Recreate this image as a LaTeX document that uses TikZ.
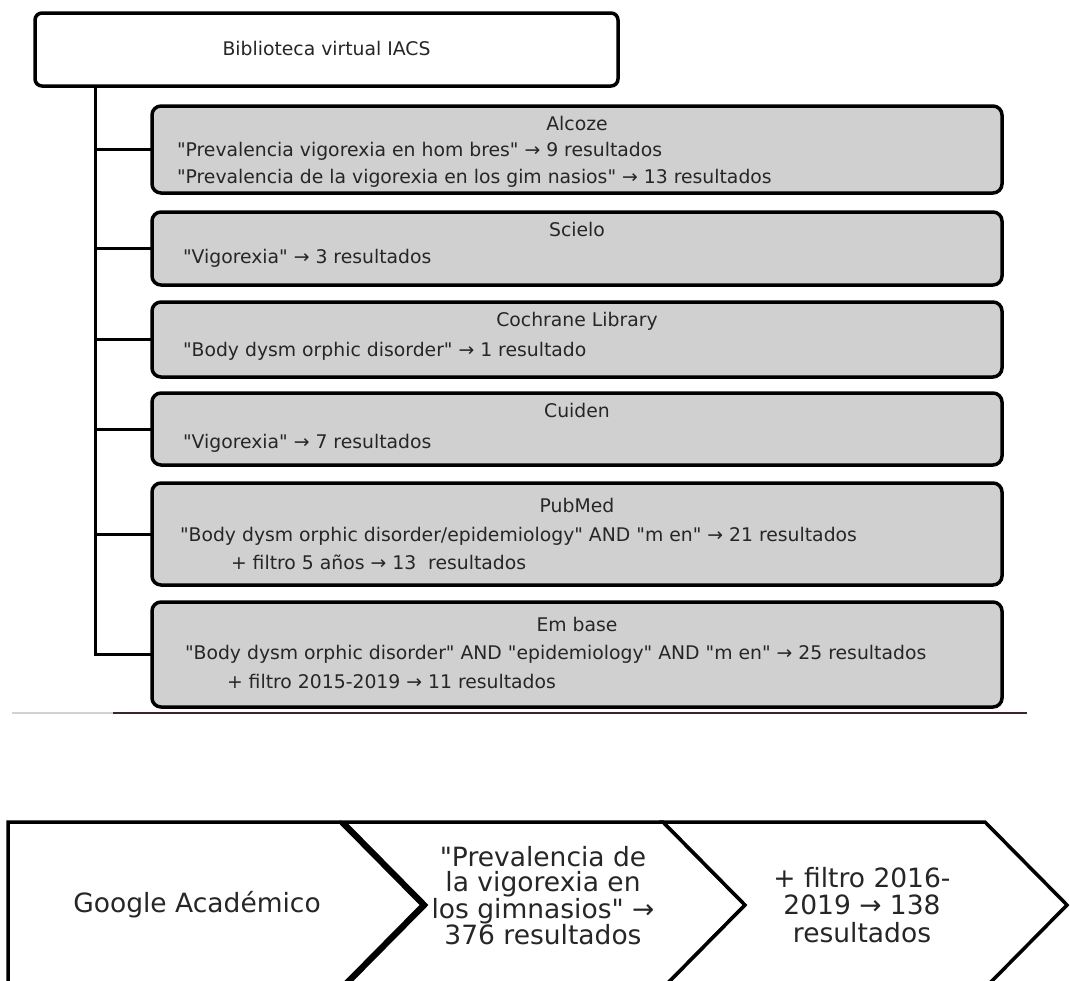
\documentclass[tikz,border=0pt]{standalone}
\usepackage{fontspec}
\setmainfont{DejaVu Sans}[Ligatures=TeXOff]
\usetikzlibrary{positioning}

\definecolor{boxgray}{RGB}{208,208,208}
\definecolor{rulebrown}{RGB}{62,38,40}

\begin{document}
\begin{tikzpicture}[
  x=1pt, y=-1pt,
  every node/.style={font=\fontsize{18.8}{22}\selectfont, text=black!85,
                     inner sep=0pt, outer sep=0pt},
  topbox/.style={rectangle, draw=black, fill=white, line width=3.5pt,
                 rounded corners=7pt, minimum width=583pt, minimum height=73pt},
  srcbox/.style={rectangle, draw=black, fill=boxgray, line width=3.5pt,
                 rounded corners=9pt, minimum width=850pt},
  conn/.style={line width=3pt, black},
  title/.style={anchor=center, text height=16pt, text depth=4pt},
  query/.style={anchor=west, text height=16pt, text depth=4pt},
  chev/.style={draw=black, fill=white, line width=3.5pt, line join=miter},
  chevtext/.style={align=center, font=\fontsize{26.5}{24.5}\selectfont},
]
\useasboundingbox (0,0) rectangle (1070,980);

% Biblioteca virtual IACS and its sources
\node[topbox] (iacs) at (326.5,49.5) {};
\node[title] (iacsT) at (iacs.center) {Biblioteca virtual IACS};

\node[srcbox, minimum height=87pt]  (alcoze)   at (577,149.5) {};
\node[srcbox, minimum height=73pt]  (scielo)   at (577,248.5) {};
\node[srcbox, minimum height=75pt]  (cochrane) at (577,339.5) {};
\node[srcbox, minimum height=72pt]  (cuiden)   at (577,429) {};
\node[srcbox, minimum height=102pt] (pubmed)   at (577,534) {};
\node[srcbox, minimum height=105pt] (embase)   at (577,654.5) {};

% titles
\node[title] (alcozeT)   at ([yshift=-18pt]alcoze.north)   {Alcoze};
\node[title] (scieloT)   at ([yshift=-18pt]scielo.north)   {Scielo};
\node[title] (cochraneT) at ([yshift=-18pt]cochrane.north) {Cochrane Library};
\node[title] (cuidenT)   at ([yshift=-18pt]cuiden.north)   {Cuiden};
\node[title] (pubmedT)   at ([yshift=-23pt]pubmed.north)   {PubMed};
\node[title] (embaseT)   at ([yshift=-23pt]embase.north)   {Em base};

% searches
\node[query] (alcozeA) at (177,150) {"Prevalencia vigorexia en hom bres" → 9 resultados};
\node[query] (alcozeB) at (177,177) {"Prevalencia de la vigorexia en los gim nasios" → 13 resultados};
\node[query] (scieloA) at (183,257) {"Vigorexia" → 3 resultados};
\node[query] (cochraneA) at (183,350) {"Body dysm orphic disorder" → 1 resultado};
\node[query] (cuidenA) at (183,442) {"Vigorexia" → 7 resultados};
\node[query] (pubmedA) at (180,535) {"Body dysm orphic disorder/epidemiology" AND "m en" → 21 resultados};
\node[query] (pubmedB) at (231,563) {+ filtro 5 años → 13 \ resultados};
\node[query] (embaseA) at (185,653) {"Body dysm orphic disorder" AND "epidemiology" AND "m en" → 25 resultados};
\node[query] (embaseB) at (227,682) {+ filtro 2015-2019 → 11 resultados};

% tree lines
\coordinate (trunk) at ([xshift=60pt]iacs.south west);
\draw[conn] (trunk) |- (embase.west);
\foreach \src in {alcoze,scielo,cochrane,cuiden,pubmed}
  \draw[conn] (trunk |- \src.west) -- (\src.west);

% separator
\draw[gray!35, line width=2pt] (12,713) -- (113,713);
\draw[rulebrown, line width=2.5pt] (113,713) -- (1027,713);

% Google Academico chain
\begin{scope}
\clip (0,0) rectangle (1070,980);
\draw[chev] (8,822) -- (340,822) -- (422,905) -- (340,988) -- (8,988) -- cycle;
\draw[chev] (344,822) -- (663,822) -- (745,905) -- (663,988) -- (344,988)
  -- (426,905) -- cycle;
\draw[chev] (663,822) -- (985,822) -- (1067,905) -- (985,988) -- (663,988)
  -- (745,905) -- cycle;
\end{scope}
\node[chevtext] (google) at (197,905) {Google Académico};
\node[chevtext] (gsearch) at (543,896)
  {"Prevalencia de\\la vigorexia en\\los gimnasios" →\\376 resultados};
\node[chevtext, font=\fontsize{26.5}{27.5}\selectfont] (gfilter) at (862,905)
  {+ filtro 2016-\\2019 → 138\\resultados};

\end{tikzpicture}
\end{document}
